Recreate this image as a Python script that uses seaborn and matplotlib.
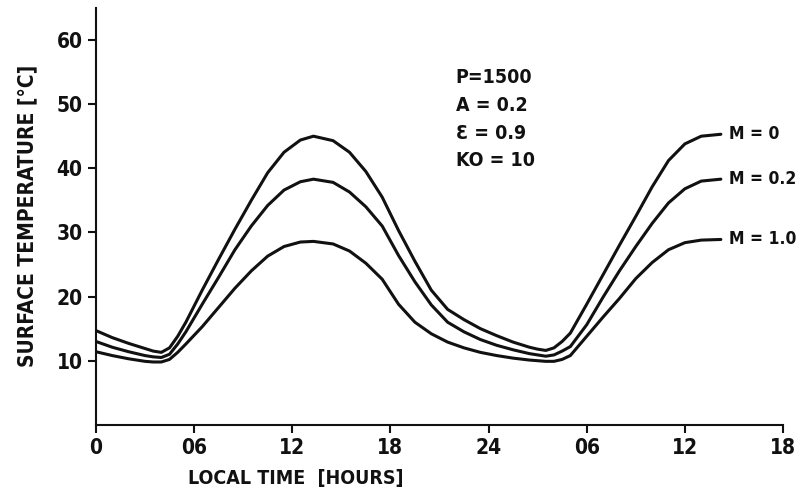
import numpy as np
import pandas as pd
import matplotlib
matplotlib.use("Agg")
import matplotlib.pyplot as plt
import seaborn as sns

# Local time in hours (0 .. 38 covers one and a half days)
hours = [0, 1, 2, 3, 3.5, 4.0, 4.5, 5.0, 5.5, 6.5, 7.5, 8.5, 9.5, 10.5, 11.5, 12.5,
         13.3, 14.5, 15.5, 16.5, 17.5, 18.5, 19.5, 20.5, 21.5, 22.5, 23.5, 24.5,
         25.5, 26.5, 27.0, 27.5, 28.0, 28.5, 29, 30, 31, 32, 33, 34, 35, 36, 37, 38.2]

# Surface temperature [C] for each M
temp_m0 = [14.7, 13.6, 12.7, 11.9, 11.5, 11.3, 12.0, 13.8, 16.0, 21.0, 25.8, 30.5,
           35.0, 39.3, 42.5, 44.4, 45.0, 44.3, 42.5, 39.5, 35.5, 30.3, 25.5, 21.0,
           18.0, 16.4, 15.0, 13.9, 12.9, 12.1, 11.8, 11.6, 12.0, 13.0, 14.3, 18.8,
           23.4, 28.0, 32.5, 37.1, 41.2, 43.8, 45.0, 45.3]
temp_m02 = [13.0, 12.1, 11.4, 10.8, 10.6, 10.5, 11.0, 12.6, 14.5, 18.8, 23.0, 27.3,
            31.0, 34.2, 36.6, 37.9, 38.3, 37.8, 36.3, 34.0, 31.0, 26.4, 22.3, 18.7,
            16.0, 14.5, 13.3, 12.4, 11.7, 11.1, 10.9, 10.7, 10.9, 11.5, 12.2, 15.6,
            19.9, 24.0, 27.8, 31.4, 34.6, 36.8, 38.0, 38.3]
temp_m1 = [11.4, 10.8, 10.3, 9.9, 9.8, 9.8, 10.2, 11.3, 12.6, 15.3, 18.3, 21.3,
           24.0, 26.3, 27.8, 28.5, 28.6, 28.2, 27.1, 25.2, 22.7, 18.8, 16.0, 14.2,
           12.9, 12.0, 11.3, 10.8, 10.4, 10.1, 10.0, 9.9, 9.9, 10.2, 10.8, 13.8,
           16.8, 19.7, 22.8, 25.3, 27.3, 28.4, 28.8, 28.9]

curve_labels = ["M = 0", "M = 0.2", "M = 1.0"]
tick_hours = [0, 6, 12, 18, 24, 30, 36, 42]
tick_labels = ["0", "06", "12", "18", "24", "06", "12", "18"]
params_text = "P=1500\nA = 0.2\nƐ = 0.9\nKO = 10"

df = pd.DataFrame({
    "hours": hours * 3,
    "temp": temp_m0 + temp_m02 + temp_m1,
    "M": sum([[lab] * len(hours) for lab in curve_labels], []),
})

sns.set_style("ticks")
plt.rcParams["font.family"] = ["DejaVu Sans"]
plt.rcParams["font.stretch"] = "condensed"
plt.rcParams["font.weight"] = "bold"
plt.rcParams["axes.labelweight"] = "bold"

ink = "#111111"
fig = plt.figure(figsize=(7.99, 4.94), dpi=100)
ax = fig.add_axes([0.120, 0.140, 0.860, 0.844])

sns.lineplot(data=df, x="hours", y="temp", hue="M", palette=[ink] * 3,
             linewidth=2.2, legend=False, ax=ax)

# curve labels at the right-hand end
for lab, vals in zip(curve_labels, [temp_m0, temp_m02, temp_m1]):
    ax.text(hours[-1] + 0.5, vals[-1], lab, fontsize=12.5, va="center", ha="left",
            color=ink)

ax.text(22.0, 55.6, params_text, fontsize=14, va="top", ha="left",
        linespacing=1.58, color=ink)

ax.set_xlim(0, 42)
ax.set_ylim(0, 65)
ax.set_xticks(tick_hours)
ax.set_xticklabels(tick_labels)
ax.set_yticks([10, 20, 30, 40, 50, 60])
ax.tick_params(labelsize=15, width=1.5, length=6, colors=ink)
for s in ["top", "right"]:
    ax.spines[s].set_visible(False)
for s in ["left", "bottom"]:
    ax.spines[s].set_linewidth(1.5)
    ax.spines[s].set_color(ink)

ax.set_xlabel("LOCAL TIME  [HOURS]", fontsize=14, color=ink)
ax.xaxis.set_label_coords(0.291, -0.105)
ax.set_ylabel("SURFACE TEMPERATURE [°C]", fontsize=15, color=ink)
ax.yaxis.set_label_coords(-0.085, 0.5)

fig.savefig("out.png", dpi=100)
